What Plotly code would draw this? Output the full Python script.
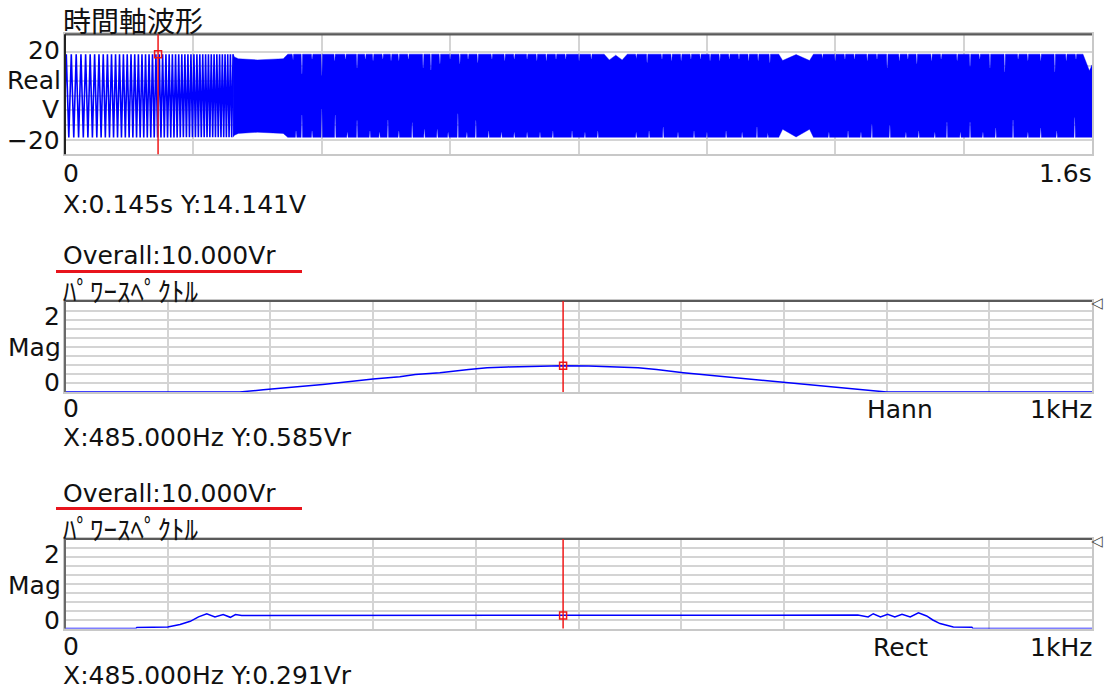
import plotly.graph_objects as go

W, H = 1105, 689

# ---------------- data ----------------
TIME_RANGE = [0.0, 1.6]            # s
TIME_LABELS = ["0", "1.6s"]
VOLT_LABELS = ["20", "\u221220"]
WAVE_PEAK = 14.141                 # V, cursor reading
CURSOR_T = 0.145                   # s
CURSOR_TEXT_T = "X:0.145s Y:14.141V"

# extrema of the sweep where single cycles are resolvable (ms)
WAVE_EXTREMA_MS = [
    1.99, 5.94, 9.82, 13.66, 17.45, 21.19, 24.88, 28.52, 32.12, 35.68,
    39.21, 42.70, 46.14, 49.56, 52.92, 56.27, 59.58, 62.85, 66.09, 69.29,
    72.47, 75.63, 78.76, 81.85, 84.92, 87.97, 90.99, 93.99, 96.95, 99.91,
    102.85, 105.74, 108.63, 111.48, 114.33, 117.13, 119.93, 122.71, 125.47, 128.21,
    130.93, 133.64, 136.31, 138.98, 141.63, 144.28, 146.88, 149.49, 152.10, 154.66,
    157.22, 159.76, 162.27, 164.79, 167.28, 169.78, 172.25, 174.70, 177.15, 179.58,
    181.99, 184.39, 186.78, 189.16, 191.52, 193.89, 196.22, 198.57, 200.88, 203.20,
    205.50, 207.77, 210.04, 212.32, 214.57, 216.82, 219.05, 221.28, 223.49, 225.70,
    227.88, 230.07, 232.25, 234.42, 236.58, 238.74, 240.88, 243.00, 245.12, 247.24,
    249.34, 251.43, 253.53, 255.60, 257.68, 259.73, 261.79,
]

# envelope of the dense part of the trace (s, V)
ENV_UPPER_T = [0.2618, 0.264, 0.270, 0.300, 0.340, 0.347, 0.840, 0.848, 0.858, 0.868,
               0.876, 1.112, 1.118, 1.139, 1.160, 1.166, 1.586, 1.596, 1.600]
ENV_UPPER_V = [14.141, 13.2, 12.6, 12.2, 12.6, 14.141, 14.141, 12.2, 13.8, 12.2,
               14.141, 14.141, 12.0, 14.0, 12.0, 14.141, 14.141, 8.5, 10.5]
ENV_LOWER_T = [0.2618, 0.264, 0.270, 0.300, 0.340, 0.347, 1.112, 1.118, 1.139, 1.160,
               1.166, 1.600]
ENV_LOWER_V = [-14.141, -13.4, -12.8, -12.4, -12.8, -14.141, -14.141, -11.4, -14.0, -11.4,
               -14.141, -14.141]

# narrow notches in the dense part (s, V)
UP_NOTCH_T = [0.355, 0.369, 0.385, 0.400, 0.420, 0.437, 0.455, 0.468, 0.480, 0.495,
              0.508, 0.520, 0.535, 0.558, 0.570, 0.584, 0.600, 0.615, 0.628, 0.643,
              0.665, 0.685, 0.700, 0.720, 0.735, 0.750, 0.765, 0.780, 0.801, 0.820,
              0.890, 0.907, 0.930, 0.945, 0.960, 0.975, 0.990, 1.005, 1.020, 1.035,
              1.050, 1.065, 1.080, 1.098, 1.180, 1.200, 1.215, 1.230, 1.250, 1.265,
              1.281, 1.300, 1.313, 1.327, 1.350, 1.365, 1.390, 1.410, 1.425, 1.441,
              1.464, 1.485, 1.500, 1.520, 1.542, 1.560, 1.575]
UP_NOTCH_V = [12.0, 7.5, 12.5, 7.0, 12.0, 12.5, 9.5, 12.5, 12.0, 12.5,
              12.0, 12.0, 12.5, 9.5, 8.8, 11.0, 12.5, 11.0, 12.5, 11.3,
              12.5, 12.0, 12.5, 12.5, 12.0, 12.0, 12.5, 12.5, 12.0, 12.5,
              12.5, 11.3, 12.5, 12.0, 12.0, 12.5, 12.5, 12.0, 12.0, 12.5,
              12.5, 12.0, 12.0, 11.3, 12.5, 12.0, 12.5, 12.5, 12.0, 12.5,
              9.5, 12.0, 12.5, 11.0, 12.0, 12.5, 12.0, 10.0, 12.5, 9.5,
              8.2, 12.5, 12.0, 12.0, 8.2, 12.0, 12.5]
LO_NOTCH_T = [0.360, 0.369, 0.385, 0.400, 0.421, 0.440, 0.455, 0.475, 0.490, 0.503,
              0.520, 0.541, 0.560, 0.580, 0.597, 0.612, 0.626, 0.640, 0.660, 0.680,
              0.700, 0.720, 0.740, 0.760, 0.790, 0.810, 0.830, 0.890, 0.910, 0.932,
              0.955, 0.980, 1.000, 1.030, 1.055, 1.078, 1.095, 1.190, 1.220, 1.240,
              1.257, 1.285, 1.310, 1.330, 1.355, 1.374, 1.395, 1.410, 1.430, 1.450,
              1.477, 1.500, 1.520, 1.545, 1.573]
LO_NOTCH_V = [-12.0, -6.5, -12.0, -4.5, -6.5, -12.5, -8.4, -12.0, -12.5, -8.2,
              -12.0, -9.2, -11.5, -11.5, -12.5, -6.1, -12.5, -8.4, -12.0, -12.5,
              -12.5, -12.5, -12.5, -12.0, -12.0, -12.5, -12.0, -12.5, -12.0, -10.6,
              -12.5, -12.0, -12.5, -12.0, -12.5, -10.6, -12.5, -12.5, -12.0, -12.5,
              -9.8, -10.0, -12.5, -12.0, -12.5, -9.0, -12.5, -9.0, -12.5, -11.0,
              -8.2, -12.5, -11.0, -12.0, -7.5]

FREQ_RANGE = [0, 1000]             # Hz
CURSOR_F = 485
HANN_F = [0, 170, 193, 251, 300, 326, 341, 365, 393, 411, 431, 460, 484, 510, 537,
          558, 576, 589, 602, 615, 638, 664, 684, 703, 735, 767, 787, 800, 1000]
HANN_MAG = [0, 0, 0.05, 0.17, 0.29, 0.34, 0.39, 0.43, 0.50, 0.54, 0.56, 0.58, 0.585, 0.58, 0.56,
            0.54, 0.50, 0.46, 0.43, 0.40, 0.35, 0.29, 0.25, 0.21, 0.135, 0.07, 0.03, 0, 0]
HANN_CURSOR_MAG = 0.585
RECT_F = [0, 69, 70, 100, 112, 122, 130, 138, 146, 154, 161, 166, 172,
          760, 772, 782, 787, 794, 801, 808, 815, 823, 831, 839, 845, 852,
          859, 865, 883, 884, 1000]
RECT_MAG = [0, 0, 0.025, 0.035, 0.09, 0.16, 0.26, 0.33, 0.26, 0.31, 0.25, 0.31, 0.29,
            0.29, 0.30, 0.26, 0.33, 0.26, 0.32, 0.26, 0.32, 0.26, 0.35, 0.28, 0.19, 0.11,
            0.075, 0.036, 0.03, 0, 0]
RECT_CURSOR_MAG = 0.291
FREQ_LABELS = ["0", "1kHz"]
MAG_LABELS = ["2", "0"]
OVERALL_TEXT = "Overall:10.000Vr"
SPEC_TITLE = "\uff8a\uff9f\uff9c\uff70\uff7d\uff8d\uff9f\uff78\uff84\uff99"
WAVE_TITLE = "時間軸波形"
WINDOWS = ["Hann", "Rect"]
CURSOR_TEXT_F = ["X:485.000Hz Y:0.585Vr", "X:485.000Hz Y:0.291Vr"]

# ---------------- styling ----------------
BLUE = "#0000ff"
RED = "#f01818"
GRID = "#d4d4d4"
EDGE = "#c8c8c8"
DARK = "#5a5a5a"
TXT = "#111111"
LATIN = "DejaVu Sans"
CJK = "Noto Sans CJK JP"
NOTCH_OUT = 0.0011
NOTCH_IN = 0.00035

fig = go.Figure()

# ---- time waveform: resolvable cycles ----
wave_t = [0.0] + [m / 1000.0 for m in WAVE_EXTREMA_MS]
wave_v = [0.0] + [WAVE_PEAK if i % 2 == 0 else -WAVE_PEAK for i in range(len(WAVE_EXTREMA_MS))]
fig.add_trace(go.Scatter(x=wave_t, y=wave_v, mode="lines", line=dict(color=BLUE, width=1.6),
                         xaxis="x", yaxis="y", hoverinfo="skip"))


def envelope(base_t, base_v, notch_t, notch_v, full):
    pts = list(zip(base_t, base_v))
    for t, v in zip(notch_t, notch_v):
        pts += [(t - NOTCH_OUT, full), (t - NOTCH_IN, v), (t + NOTCH_IN, v), (t + NOTCH_OUT, full)]
    pts.sort()
    return [p[0] for p in pts], [p[1] for p in pts]


ut, uv = envelope(ENV_UPPER_T, ENV_UPPER_V, UP_NOTCH_T, UP_NOTCH_V, WAVE_PEAK)
lt, lv = envelope(ENV_LOWER_T, ENV_LOWER_V, LO_NOTCH_T, LO_NOTCH_V, -WAVE_PEAK)
fig.add_trace(go.Scatter(x=ut + lt[::-1], y=uv + lv[::-1], mode="lines", fill="toself",
                         fillcolor=BLUE, line=dict(color=BLUE, width=0.4),
                         xaxis="x", yaxis="y", hoverinfo="skip"))

# ---- spectra ----
fig.add_trace(go.Scatter(x=HANN_F, y=HANN_MAG, mode="lines", line=dict(color=BLUE, width=1.5),
                         xaxis="x2", yaxis="y2", hoverinfo="skip"))
fig.add_trace(go.Scatter(x=RECT_F, y=RECT_MAG, mode="lines", line=dict(color=BLUE, width=1.5),
                         xaxis="x3", yaxis="y3", hoverinfo="skip"))

# ---- cursor markers ----
for xa, ya, xv, yv in [("x", "y", CURSOR_T, WAVE_PEAK), ("x2", "y2", CURSOR_F, HANN_CURSOR_MAG),
                       ("x3", "y3", CURSOR_F, RECT_CURSOR_MAG)]:
    fig.add_trace(go.Scatter(x=[xv], y=[yv], mode="markers", xaxis=xa, yaxis=ya,
                             marker=dict(symbol="square-open", size=7, color=RED,
                                         line=dict(color=RED, width=1.5)),
                             hoverinfo="skip", cliponaxis=False))

X_DOM = [65 / W, 1092 / W]


def ydom(top_px, bot_px):
    return [1 - bot_px / H, 1 - top_px / H]


common_x = dict(domain=X_DOM, showticklabels=False, ticks="", zeroline=False, showgrid=True,
                gridcolor=GRID, gridwidth=1.5, showline=True, linecolor=EDGE, linewidth=1.5,
                mirror=True, layer="below traces", fixedrange=True)
common_y = dict(showticklabels=False, ticks="", zeroline=False, showgrid=True,
                gridcolor=GRID, gridwidth=1.5, showline=True, linecolor=EDGE, linewidth=1.5,
                mirror=True, layer="below traces", fixedrange=True)

fig.update_layout(
    width=W, height=H, margin=dict(l=0, r=0, t=0, b=0),
    paper_bgcolor="white", plot_bgcolor="white", showlegend=False,
    xaxis=dict(**common_x, range=TIME_RANGE, tickvals=[0.2, 0.4, 0.6, 0.8, 1.0, 1.2, 1.4], anchor="y"),
    yaxis=dict(**common_y, domain=ydom(34.3, 154.3), range=[-19.9, 20.9],
               tickvals=[-15, -10, -5, 0, 5, 10, 15], anchor="x"),
    xaxis2=dict(**common_x, range=FREQ_RANGE, tickvals=list(range(100, 1000, 100)), anchor="y2"),
    yaxis2=dict(**common_y, domain=ydom(301, 392), range=[0, 2.03],
                tickvals=[0.2, 0.4, 0.6, 0.8, 1.0, 1.2, 1.4, 1.6, 1.8], anchor="x2"),
    xaxis3=dict(**common_x, range=FREQ_RANGE, tickvals=list(range(100, 1000, 100)), anchor="y3"),
    yaxis3=dict(**common_y, domain=ydom(539, 628.5), range=[0, 2.0],
                tickvals=[0.2, 0.4, 0.6, 0.8, 1.0, 1.2, 1.4, 1.6, 1.8], anchor="x3"),
)

shapes = []
for xr, yr, xc in [("x", "y", CURSOR_T), ("x2", "y2", CURSOR_F), ("x3", "y3", CURSOR_F)]:
    shapes.append(dict(type="line", xref=xr + " domain", yref=yr + " domain", x0=0, x1=1, y0=1, y1=1,
                       line=dict(color=DARK, width=2.2), layer="above"))
    shapes.append(dict(type="line", xref=xr + " domain", yref=yr + " domain", x0=0, x1=0, y0=0, y1=1,
                       line=dict(color="#222222" if xr == "x" else "#6a6a6a", width=2), layer="above"))
    shapes.append(dict(type="line", xref=xr, yref=yr + " domain", x0=xc, x1=xc, y0=0, y1=1,
                       line=dict(color=RED, width=1.5), layer="above"))
for y_px in [271.5, 508.5]:
    shapes.append(dict(type="line", xref="paper", yref="paper", x0=56 / W, x1=302 / W,
                       y0=1 - y_px / H, y1=1 - y_px / H, line=dict(color="#e8141c", width=3)))
fig.update_layout(shapes=shapes)


def txt(s, x, y, xa="left", size=25, fam=LATIN, color=TXT):
    return dict(text=s, x=x / W, y=1 - y / H, xref="paper", yref="paper", xanchor=xa,
                yanchor="middle", showarrow=False, borderpad=0,
                font=dict(family=fam + ", " + CJK, size=size, color=color))


ann = [
    txt(WAVE_TITLE, 62, 20, size=28, fam=CJK),
    txt(VOLT_LABELS[0], 61, 50, "right"),
    txt("Real", 62, 81, "right"),
    txt("V", 60, 109, "right"),
    txt(VOLT_LABELS[1], 61, 140, "right"),
    txt(TIME_LABELS[0], 62, 173),
    txt(TIME_LABELS[1], 1093, 173, "right"),
    txt(CURSOR_TEXT_T, 62, 204),
]
for i, tops in enumerate([301, 539]):
    ann += [
        txt(OVERALL_TEXT, 62, tops - 45.5),
        txt(SPEC_TITLE, 62, tops - 10.5, size=27, fam=CJK),
        txt(MAG_LABELS[0], 61, tops + 15, "right"),
        txt("Mag", 62, tops + 46, "right"),
        txt(MAG_LABELS[1], 61, tops + 81, "right"),
        txt(FREQ_LABELS[0], 62, tops + 107),
        txt(WINDOWS[i], 900, tops + 108, "center"),
        txt(FREQ_LABELS[1], 1093, tops + 108, "right"),
        txt(CURSOR_TEXT_F[i], 62, tops + 136),
        txt("\u25c1", 1090, tops + 2, size=15, color="#444444"),
    ]
fig.update_layout(annotations=ann)

fig.write_html("out.html")
